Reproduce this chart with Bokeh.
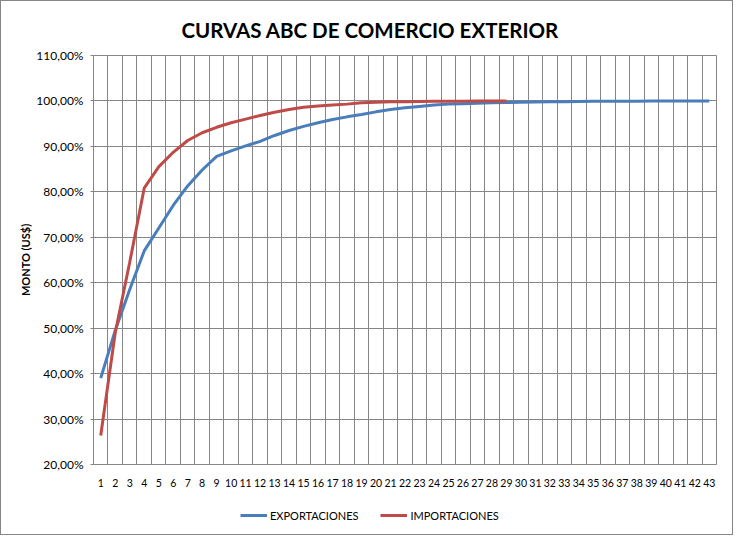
from bokeh.plotting import figure
from bokeh.models import Range1d, FixedTicker, CustomJSTickFormatter, Legend, LegendItem, Title
from bokeh.layouts import column
from bokeh.embed import file_html
from bokeh.resources import INLINE

# ---- data ----
categories = list(range(1, 44))
exportaciones = [39.0, 49.5, 58.5, 67.0, 72.0, 77.0, 81.3, 84.8, 87.8, 89.0,
                 90.1, 91.1, 92.4, 93.5, 94.4, 95.2, 95.9, 96.5, 97.0, 97.6,
                 98.1, 98.5, 98.8, 99.1, 99.3, 99.4, 99.5, 99.6, 99.65, 99.7,
                 99.75, 99.8, 99.85, 99.9, 99.92, 99.94, 99.95, 99.96, 99.97, 99.98,
                 99.99, 100.0, 100.0]
importaciones = [26.4, 49.0, 64.5, 80.8, 85.5, 88.7, 91.3, 93.0, 94.2, 95.2,
                 96.0, 96.8, 97.5, 98.1, 98.6, 98.9, 99.1, 99.3, 99.6, 99.7,
                 99.8, 99.85, 99.9, 99.92, 99.94, 99.96, 99.98, 99.99, 100.0]
y_ticks = [20, 30, 40, 50, 60, 70, 80, 90, 100, 110]
series_names = ["EXPORTACIONES", "IMPORTACIONES"]

FONT = "Lato"
GRID = "#868686"
BLUE = "#4A7EBB"
RED = "#BE4B48"

p = figure(frame_width=623, frame_height=409,
           min_border_left=92, min_border_right=16, min_border_top=10, min_border_bottom=30,
           x_range=Range1d(0.5, 43.5), y_range=Range1d(20, 110),
           output_backend="svg", toolbar_location=None,
           background_fill_color="white", border_fill_color="white")

t = Title(text="CURVAS ABC DE COMERCIO EXTERIOR", text_font=FONT, text_font_style="bold",
          text_font_size="20.5px", text_color="black", align="left", offset=88, standoff=28)
p.add_layout(t, "above")

# axes
p.xaxis.ticker = FixedTicker(ticks=categories)
p.xaxis.major_label_text_font = FONT
p.xaxis.major_label_text_font_size = "10.5px"
p.xaxis.major_label_text_color = "black"
p.xaxis.major_tick_out = 0
p.xaxis.major_tick_in = 0
p.xaxis.minor_tick_out = 0
p.xaxis.minor_tick_in = 0
p.xaxis.major_label_standoff = 14
p.xaxis.axis_line_color = GRID

p.yaxis.ticker = FixedTicker(ticks=y_ticks)
p.yaxis.formatter = CustomJSTickFormatter(code="return tick.toFixed(2).replace('.', ',') + '%';")
p.yaxis.major_label_text_font = FONT
p.yaxis.major_label_text_font_size = "12px"
p.yaxis.major_label_text_color = "black"
p.yaxis.major_tick_out = 3
p.yaxis.major_tick_in = 0
p.yaxis.minor_tick_out = 0
p.yaxis.minor_tick_in = 0
p.yaxis.major_tick_line_color = GRID
p.yaxis.axis_line_color = GRID
p.yaxis.major_label_standoff = 7
p.yaxis.axis_label = "MONTO (US$)"
p.yaxis.axis_label_text_font = FONT
p.yaxis.axis_label_text_font_style = "bold"
p.yaxis.axis_label_text_font_size = "11px"
p.yaxis.axis_label_text_color = "black"
p.yaxis.axis_label_standoff = 1

# grids
p.xgrid.ticker = FixedTicker(ticks=[c + 0.5 for c in [0] + categories])
p.xgrid.grid_line_color = GRID
p.xgrid.grid_line_width = 1
p.ygrid.ticker = FixedTicker(ticks=y_ticks)
p.ygrid.grid_line_color = GRID
p.ygrid.grid_line_width = 1
p.outline_line_color = GRID
p.outline_line_width = 1

p.line(categories, exportaciones, line_color=BLUE, line_width=3)
p.line(categories[:len(importaciones)], importaciones, line_color=RED, line_width=3)

# ---- legend strip below the chart ----
lg = figure(frame_width=623, frame_height=40,
            min_border_left=92, min_border_right=16, min_border_top=0, min_border_bottom=0,
            x_range=Range1d(0.5, 43.5), y_range=Range1d(1000, 1001),
            x_axis_location=None, y_axis_location=None,
            output_backend="svg", toolbar_location=None,
            background_fill_color="white", border_fill_color="white")
lg.grid.visible = False
lg.outline_line_color = None
l1 = lg.line(categories, exportaciones, line_color=BLUE, line_width=3)
l2 = lg.line(categories[:len(importaciones)], importaciones, line_color=RED, line_width=3)

legend = Legend(items=[LegendItem(label=series_names[0], renderers=[l1]),
                       LegendItem(label=series_names[1], renderers=[l2])],
                orientation="horizontal", location=(147, 12),
                label_text_font=FONT, label_text_font_size="11px", label_text_color="black",
                glyph_width=27, label_standoff=3, spacing=22, padding=0, margin=0,
                border_line_color=None, background_fill_alpha=0,
                label_height=14, glyph_height=14)
lg.add_layout(legend, "center")

layout = column(p, lg, spacing=0, styles={"border": "1px solid #868686"})

open("out.html", "w").write(file_html(layout, INLINE))
